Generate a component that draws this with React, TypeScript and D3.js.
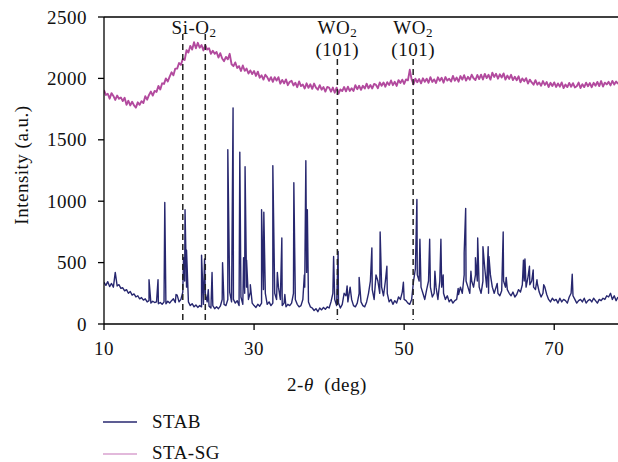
import React from "react";
import * as d3 from "d3";

// ---------- DATA ----------
const X_START = 10;
const X_STEP = 0.25;
const X_MAX = 78.5;

// STA-SG intensity, sampled every 0.25 deg from 10.0
const staSgValues: number[] = [
  1905, 1865, 1875, 1835, 1880, 1857, 1825, 1860, 1835, 1845,
  1815, 1842, 1785, 1818, 1780, 1810, 1780, 1762, 1805, 1785,
  1815, 1800, 1855, 1827, 1865, 1893, 1860, 1898, 1890, 1938,
  1910, 1960, 1955, 2000, 1975, 2015, 2050, 2025, 2080, 2080,
  2125, 2110, 2160, 2150, 2230, 2210, 2265, 2235, 2295, 2245,
  2290, 2250, 2272, 2228, 2270, 2235, 2245, 2200, 2225, 2200,
  2215, 2170, 2205, 2162, 2140, 2175, 2155, 2200, 2115, 2100,
  2130, 2085, 2100, 2060, 2105, 2062, 2080, 2040, 2065, 2035,
  2060, 2020, 2055, 2005, 2025, 1990, 2030, 2010, 1980, 2010,
  1972, 2010, 1982, 2010, 1957, 1988, 1960, 1992, 1945, 1972,
  1980, 1943, 1965, 1928, 1975, 1938, 1950, 1918, 1960, 1923,
  1952, 1915, 1958, 1925, 1908, 1945, 1908, 1930, 1893, 1930,
  1925, 1892, 1925, 1883, 1925, 1875, 1910, 1897, 1930, 1895,
  1932, 1898, 1920, 1897, 1945, 1912, 1940, 1907, 1940, 1917,
  1957, 1919, 1946, 1918, 1955, 1947, 1920, 1967, 1940, 1967,
  1932, 1969, 1946, 1983, 1945, 1972, 1939, 1986, 1963, 1990,
  1955, 1992, 1984, 2070, 1991, 1952, 1998, 1969, 1995, 1960,
  2001, 1972, 1998, 1964, 2010, 1971, 1992, 1963, 2009, 1980,
  2005, 1965, 2011, 1982, 1998, 1974, 2020, 1981, 2007, 1973,
  2019, 1990, 2026, 1982, 2013, 1989, 2030, 2001, 1987, 2028,
  1994, 2030, 1991, 2037, 2003, 2029, 1990, 2046, 2012, 2038,
  1998, 2033, 2007, 2041, 1990, 2023, 1996, 2029, 1986, 2013,
  1985, 2017, 1968, 2000, 1976, 2002, 1958, 1990, 1967, 1949,
  1986, 1949, 1967, 1940, 1978, 1947, 1971, 1930, 1964, 1938,
  1967, 1930, 1959, 1933, 1967, 1921, 1950, 1929, 1963, 1932,
  1961, 1926, 1936, 1966, 1922, 1953, 1929, 1965, 1936, 1962,
  1928, 1964, 1940, 1971, 1937, 1978, 1934, 1965, 1951, 1972,
  1943, 1979, 1950, 1975, 1955,
];

// STAB background intensity, sampled every 0.25 deg from 10.0
const stabBaseline: number[] = [
  340, 315, 345, 305, 330, 300, 420, 310, 320, 290,
  295, 270, 280, 250, 265, 235, 245, 220, 230, 205,
  215, 195, 205, 180, 190, 170, 185, 175, 180, 165,
  175, 160, 180, 165, 185, 170, 190, 205, 175, 235,
  180, 200, 260, 350, 300, 180, 150, 165, 140, 155,
  135, 150, 140, 160, 250, 180, 145, 130, 150, 125,
  140, 125, 145, 200, 160, 150, 200, 260, 180, 200,
  170, 190, 150, 220, 160, 250, 300, 200, 260, 170,
  150, 135, 160, 145, 170, 280, 250, 160, 180, 150,
  170, 250, 200, 300, 200, 150, 170, 140, 160, 150,
  170, 250, 200, 160, 140, 150, 200, 300, 420, 180,
  140, 130, 110, 125, 100, 130, 115, 135, 120, 140,
  130, 180, 250, 200, 150, 170, 130, 160, 250, 230,
  180, 280, 200, 150, 140, 170, 250, 180, 150, 140,
  180, 250, 350, 280, 200, 400, 350, 250, 300, 230,
  350, 250, 180, 200, 160, 190, 170, 220, 200, 260,
  200, 190, 170, 160, 200, 350, 450, 400, 350, 300,
  250, 200, 280, 350, 300, 220, 250, 300, 200, 350,
  300, 250, 200, 230, 180, 200, 170, 190, 200, 240,
  300, 250, 400, 350, 300, 250, 350, 300, 400, 350,
  300, 250, 350, 450, 300, 250, 400, 300, 250, 300,
  250, 230, 270, 350, 300, 280, 250, 230, 260, 220,
  240, 280, 260, 320, 350, 300, 380, 320, 350, 300,
  280, 330, 260, 220, 250, 300, 240, 200, 180, 210,
  190, 200, 170, 210, 180, 200, 190, 170, 220, 250,
  230, 200, 170, 190, 200, 180, 210, 170, 190, 200,
  180, 210, 190, 170, 200, 190, 210, 200, 230, 220,
  250, 200, 230, 190, 220,
];

// STAB diffraction peaks: [2-theta, intensity]
const stabPeaks: [number, number][] = [
  [16.0, 360], [17.2, 360], [18.1, 990], [19.6, 240],
  [20.6, 540], [20.8, 930], [21.0, 600],
  [23.0, 560], [23.4, 530], [23.9, 280], [24.4, 420],
  [25.8, 500], [26.5, 1420], [27.2, 1760], [28.1, 1400],
  [28.6, 540], [28.8, 1280], [29.0, 520], [29.5, 320],
  [31.0, 930], [31.3, 910], [32.5, 1290], [33.1, 420],
  [33.7, 700], [34.1, 240], [35.3, 1150], [36.7, 400],
  [36.9, 1330], [37.1, 930],
  [40.6, 550], [41.2, 590], [42.4, 310], [42.8, 300],
  [44.0, 380], [45.7, 620], [46.8, 750], [47.7, 470],
  [49.9, 340], [51.7, 1015], [52.1, 690], [53.4, 690],
  [54.1, 430], [54.9, 690], [55.2, 400], [57.2, 290],
  [58.0, 580], [58.2, 940], [58.9, 430], [59.5, 540],
  [59.8, 700], [60.5, 630], [61.2, 630], [61.3, 550],
  [62.4, 330], [63.2, 750], [63.6, 380],
  [65.9, 520], [66.1, 530], [66.7, 470], [67.2, 440],
  [67.7, 360], [68.6, 320], [72.4, 405],
];

const xTicks = [10, 30, 50, 70];
const yTicks = [0, 500, 1000, 1500, 2000, 2500];

const siO2Lines = [20.5, 23.5];
const wo2Lines = [41.1, 51.2];

const seriesNames = ["STAB", "STA-SG"];
const seriesColors = ["#27276f", "#b24a9e"];
const legendColors = ["#27276f", "#d9a2cf"];

// ---------- LAYOUT ----------
const W = 618;
const H = 462;
const left = 104;
const right = 618;
const top = 17;
const bottom = 324;
const FONT = "'Liberation Serif', 'Times New Roman', serif";
const FS = 19;
const LS = 0.5;

export default function App() {
  const x = d3.scaleLinear().domain([X_START, X_MAX]).range([left, right]);
  const y = d3.scaleLinear().domain([0, 2500]).range([bottom, top]);

  const staSg: [number, number][] = staSgValues.map((v, i) => [X_START + i * X_STEP, v]);
  const stab: [number, number][] = stabBaseline
    .map((v, i) => [X_START + i * X_STEP, v] as [number, number])
    .concat(stabPeaks)
    .sort((a, b) => a[0] - b[0]);

  const line = d3
    .line<[number, number]>()
    .x((d) => x(d[0]))
    .y((d) => y(d[1]));

  return (
    <svg
      width={W}
      height={H}
      style={{ position: "absolute", left: 0, top: 0, background: "#fff" }}
      fontFamily={FONT}
      fontSize={FS}
      letterSpacing={LS}
    >
      <defs>
        <clipPath id="plot">
          <rect x={left} y={top} width={right - left} height={bottom - top} />
        </clipPath>
      </defs>

      <g clipPath="url(#plot)">
        <path d={line(staSg) || ""} fill="none" stroke={seriesColors[1]} strokeWidth={1.9} strokeLinejoin="round" />
        <path d={line(stab) || ""} fill="none" stroke={seriesColors[0]} strokeWidth={1.4} strokeLinejoin="round" />
      </g>

      {/* dashed reference lines */}
      {siO2Lines.map((v) => (
        <line key={"s" + v} x1={x(v)} x2={x(v)} y1={34} y2={bottom - 4}
          stroke="#222" strokeWidth={1.5} strokeDasharray="6,4" />
      ))}
      {wo2Lines.map((v) => (
        <line key={"w" + v} x1={x(v)} x2={x(v)} y1={59} y2={bottom - 4}
          stroke="#222" strokeWidth={1.5} strokeDasharray="6,4" />
      ))}

      {/* annotations */}
      <text x={(x(siO2Lines[0]) + x(siO2Lines[1])) / 2} y={34} textAnchor="middle" fill="#111">
        Si-O<tspan fontSize={13} dy={3}>2</tspan>
      </text>
      {wo2Lines.map((v) => (
        <g key={"t" + v}>
          <text x={x(v)} y={34} textAnchor="middle" fill="#111">
            WO<tspan fontSize={13} dy={3}>2</tspan>
          </text>
          <text x={x(v)} y={56} textAnchor="middle" fill="#111">(101)</text>
        </g>
      ))}

      {/* axes */}
      <line x1={left} x2={right} y1={top} y2={top} stroke="#000" strokeWidth={1.3} />
      <line x1={left} x2={left} y1={top} y2={bottom} stroke="#000" strokeWidth={1.3} />
      <line x1={left} x2={right} y1={bottom} y2={bottom} stroke="#000" strokeWidth={1.3} />

      {yTicks.map((t) => (
        <g key={"y" + t}>
          <line x1={left - 6} x2={left} y1={y(t)} y2={y(t)} stroke="#000" strokeWidth={1.3} />
          <text x={left - 17} y={y(t)} dy="0.35em" textAnchor="end" fill="#111">{t}</text>
        </g>
      ))}
      {xTicks.map((t) => (
        <g key={"x" + t}>
          <line x1={x(t)} x2={x(t)} y1={bottom} y2={bottom + 6} stroke="#000" strokeWidth={1.3} />
          <text x={x(t)} y={355} textAnchor="middle" fill="#111">{t}</text>
        </g>
      ))}

      <text x={327} y={391} textAnchor="middle" fill="#111">
        2-<tspan fontStyle="italic">θ</tspan>{"\u00a0\u00a0"}(deg)
      </text>
      <text transform={`translate(28,165) rotate(-90)`} textAnchor="middle" fill="#111">
        Intensity (a.u.)
      </text>

      {/* legend */}
      {seriesNames.map((n, i) => (
        <g key={n}>
          <line x1={103} x2={137} y1={422 + i * 32} y2={422 + i * 32} stroke={legendColors[i]} strokeWidth={1.5} />
          <text x={152} y={428 + i * 31} fill="#111">{n}</text>
        </g>
      ))}
    </svg>
  );
}
